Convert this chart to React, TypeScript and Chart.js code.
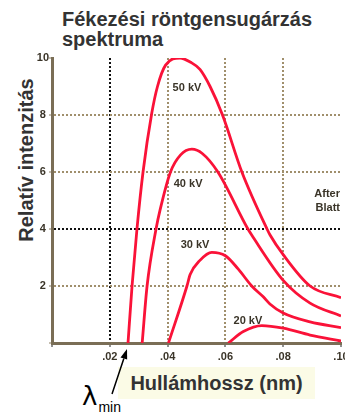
import React, { useEffect, useRef } from 'react';
import { Chart, registerables } from 'chart.js';

Chart.register(...registerables);

// ---- data ----
const kv50X = [0.0263, 0.0277, 0.0294, 0.0315, 0.0345, 0.0365, 0.0393, 0.0443, 0.048, 0.0512, 0.0547, 0.059, 0.0657, 0.0744, 0.0754, 0.08, 0.0893, 0.1];
const kv50Y = [0, 2, 4, 6, 8.05, 9.0, 9.75, 10, 9.85, 9.6, 9.0, 8, 6, 4, 3.8, 3.1, 2.0, 1.59];

const kv40X = [0.0312, 0.0329, 0.036, 0.0374, 0.041, 0.0445, 0.0484, 0.052, 0.0574, 0.0678, 0.0691, 0.08, 0.0893, 0.1];
const kv40Y = [0, 2, 4, 4.67, 6, 6.6, 6.8, 6.65, 6, 4, 3.79, 2.2, 1.4, 0.95];

const kv30X = [0.0403, 0.0467, 0.0478, 0.0512, 0.0553, 0.06, 0.0644, 0.0691, 0.0731, 0.0754, 0.08, 0.0893, 0.1];
const kv30Y = [0, 2, 2.4, 2.9, 3.18, 3.06, 2.6, 2.0, 1.62, 1.37, 1.05, 0.74, 0.54];

const kv20X = [0.061, 0.0662, 0.0726, 0.08, 0.0893, 0.1];
const kv20Y = [0, 0.4, 0.61, 0.52, 0.28, 0.07];

const seriesNames = ['50 kV', '40 kV', '30 kV', '20 kV'];
const curveLabelX = [0.0467, 0.0471, 0.0495, 0.0678];
const curveLabelY = [8.95, 5.58, 3.44, 0.77];

const noteLines = ['After', 'Blatt'];
const noteY = [5.23, 4.74];

const xTickLabels = ['', '.02', '.04', '.06', '.08', '.10'];
const yTickLabels = ['', '2', '4', '6', '8', '10'];
const lambdaMin = 0.0263;

const titleLines = ['Fékezési röntgensugárzás', 'spektruma'];
const yTitle = 'Relatív intenzitás';
const xTitle = 'Hullámhossz (nm)';

const FONT = '"Liberation Sans", Arial, Helvetica, sans-serif';
const RED = '#fa1238';
const TAN = '#a08f6c';
const DARK = '#111111';

const toPoints = (xs: number[], ys: number[]) => xs.map((x, i) => ({ x, y: ys[i] }));

const overlayPlugin = {
  id: 'overlay',
  afterDatasetsDraw(chart: any) {
    const { ctx, scales } = chart;
    const x = scales.x;
    const y = scales.y;
    ctx.save();
    ctx.font = `bold 11px ${FONT}`;
    ctx.fillStyle = '#3a3428';
    ctx.textAlign = 'center';
    ctx.textBaseline = 'middle';
    seriesNames.forEach((n, i) => {
      ctx.fillText(n, x.getPixelForValue(curveLabelX[i]), y.getPixelForValue(curveLabelY[i]));
    });
    ctx.textAlign = 'right';
    noteLines.forEach((t, i) => {
      ctx.fillText(t, x.getPixelForValue(0.1) - 1, y.getPixelForValue(noteY[i]));
    });
    // arrow pointing at lambda_min
    const tipX = x.getPixelForValue(lambdaMin) - 1;
    const tipY = y.getPixelForValue(0) + 6;
    const tailX = tipX - 15;
    const tailY = tipY + 45;
    const dx = tipX - tailX;
    const dy = tipY - tailY;
    const len = Math.hypot(dx, dy);
    const ux = dx / len;
    const uy = dy / len;
    const headLen = 10;
    const headHalf = 3.5;
    const bx = tipX - ux * headLen;
    const by = tipY - uy * headLen;
    ctx.strokeStyle = '#000';
    ctx.lineWidth = 1.5;
    ctx.beginPath();
    ctx.moveTo(tailX, tailY);
    ctx.lineTo(bx, by);
    ctx.stroke();
    ctx.fillStyle = '#000';
    ctx.beginPath();
    ctx.moveTo(tipX, tipY);
    ctx.lineTo(bx - uy * headHalf, by + ux * headHalf);
    ctx.lineTo(bx + uy * headHalf, by - ux * headHalf);
    ctx.closePath();
    ctx.fill();
    ctx.restore();
  },
};

export default function App() {
  const canvasRef = useRef<HTMLCanvasElement | null>(null);

  useEffect(() => {
    if (!canvasRef.current) return;
    Chart.defaults.font.family = FONT;
    const ds = (label: string, xs: number[], ys: number[]) => ({
      label,
      data: toPoints(xs, ys),
      borderColor: RED,
      backgroundColor: RED,
      borderWidth: 2.8,
      pointRadius: 0,
      fill: false,
      cubicInterpolationMode: 'monotone' as const,
    });
    const chart = new Chart(canvasRef.current, {
      type: 'line',
      data: {
        datasets: [
          ds(seriesNames[0], kv50X, kv50Y),
          ds(seriesNames[1], kv40X, kv40Y),
          ds(seriesNames[2], kv30X, kv30Y),
          ds(seriesNames[3], kv20X, kv20Y),
        ],
      },
      options: {
        animation: false,
        responsive: false,
        layout: { padding: { left: 0, right: 4, top: 58, bottom: 0 } },
        plugins: {
          legend: { display: false },
          tooltip: { enabled: false },
          title: { display: false },
        },
        scales: {
          x: {
            type: 'linear',
            min: 0,
            max: 0.1,
            afterFit: (s: any) => {
              s.height = 74;
              s.paddingLeft = 0;
              s.paddingRight = 0;
            },
            ticks: {
              stepSize: 0.02,
              autoSkip: false,
              maxRotation: 0,
              minRotation: 0,
              padding: 3,
              color: '#3a3428',
              font: { family: FONT, size: 11, weight: 'bold' },
              callback: (_v: any, i: number) => xTickLabels[i] ?? '',
            },
            grid: {
              color: (c: any) => {
                const v = Math.round(c.tick.value * 100);
                if (v === 0 || v === 10) return 'rgba(0,0,0,0)';
                return v === 2 ? DARK : TAN;
              },
              lineWidth: 2,
              tickColor: '#222',
              tickLength: 4,
              tickWidth: 1,
            },
            border: { color: '#7a6e56', width: 3, dash: [2, 2] },
          },
          y: {
            type: 'linear',
            min: 0,
            max: 10,
            afterFit: (s: any) => {
              s.width = 52;
              s.paddingTop = 0;
              s.paddingBottom = 0;
            },
            ticks: {
              stepSize: 2,
              padding: 0,
              crossAlign: 'center',
              color: '#3a3428',
              font: { family: FONT, size: 11, weight: 'bold' },
              callback: (_v: any, i: number) => yTickLabels[i] ?? '',
            },
            grid: {
              color: (c: any) => {
                const v = Math.round(c.tick.value);
                if (v === 0 || v === 10) return 'rgba(0,0,0,0)';
                return v === 4 ? DARK : TAN;
              },
              lineWidth: 2,
              tickColor: '#8a7c60',
              tickLength: 3,
              tickWidth: 1,
            },
            border: { color: '#7a6e56', width: 3, dash: [2, 2] },
          },
        },
      },
      plugins: [overlayPlugin],
    } as any);
    return () => chart.destroy();
  }, []);

  return (
    <div style={{ position: 'absolute', left: 0, top: 0, width: 345, height: 417, overflow: 'hidden', background: '#fff' }}>
      <div
        style={{
          position: 'absolute', left: 62, top: 9, fontFamily: FONT, fontWeight: 'bold',
          fontSize: 20, lineHeight: '20px', color: '#333', whiteSpace: 'nowrap',
        }}
      >
        {titleLines.map((t, i) => (<div key={i}>{t}</div>))}
      </div>
      <div
        style={{
          position: 'absolute', left: -74, top: 148, width: 200, height: 24, lineHeight: '24px',
          textAlign: 'center', transform: 'rotate(-90deg)', fontFamily: FONT, fontWeight: 'bold',
          fontSize: 20, color: '#333', whiteSpace: 'nowrap',
        }}
      >
        {yTitle}
      </div>
      <div
        style={{
          position: 'absolute', left: 118, top: 367, width: 197, height: 32, lineHeight: '32px',
          background: '#fbfbe6', textAlign: 'center', fontFamily: FONT, fontWeight: 'bold',
          fontSize: 20, color: '#333', whiteSpace: 'nowrap',
        }}
      >
        {xTitle}
      </div>
      <div
        style={{
          position: 'absolute', left: 82, top: 382, fontFamily: '"DejaVu Sans", sans-serif', fontSize: 26, lineHeight: '28px',
          color: '#000', whiteSpace: 'nowrap',
        }}
      >
        λ<span style={{ fontFamily: FONT, fontSize: 14, position: 'relative', top: 7, marginLeft: 1 }}>min</span>
      </div>
      <canvas ref={canvasRef} width={345} height={417} style={{ position: 'absolute', left: 0, top: 0, display: 'block', zIndex: 1 }} />
    </div>
  );
}
